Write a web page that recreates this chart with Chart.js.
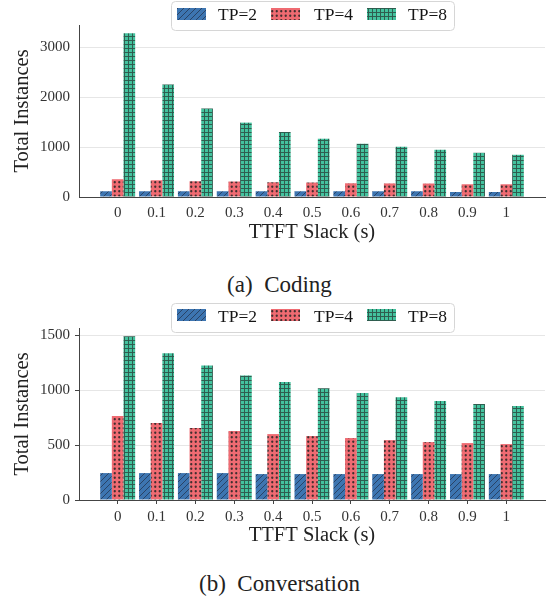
<!DOCTYPE html>
<html><head><meta charset="utf-8">
<script src="https://cdn.jsdelivr.net/npm/chart.js@4.4.1/dist/chart.umd.min.js"></script>
<style>
html,body{margin:0;padding:0;background:#fff;}
#wrap{position:relative;width:551px;height:599px;overflow:hidden;font-family:"Liberation Serif","Times New Roman",serif;}
.cv{position:absolute;left:0;width:551px;height:250px;}
.cap{position:absolute;left:0;width:559px;text-align:center;font-size:23px;color:#222;line-height:1;white-space:pre;}
</style></head><body>
<div id="wrap">
<div class="cv" style="top:0"><canvas id="c1" width="551" height="250"></canvas></div>
<div class="cv" style="top:300px"><canvas id="c2" width="551" height="250"></canvas></div>
<div class="cap" style="top:273px">(a)  Coding</div>
<div class="cap" style="top:572px">(b)  Conversation</div>
</div>
<script>
const slackLabels = ['0','0.1','0.2','0.3','0.4','0.5','0.6','0.7','0.8','0.9','1'];
const seriesNames = ['TP=2','TP=4','TP=8'];
const codingTP2 = [115,115,115,115,115,115,115,115,115,100,100];
const codingTP4 = [356,335,315,310,295,290,275,272,270,255,255];
const codingTP8 = [3280,2254,1771,1489,1302,1167,1066,1006,946,885,845];
const convTP2 = [245,245,245,245,236,236,236,236,236,236,236];
const convTP4 = [764,700,655,627,600,582,564,545,527,518,509];
const convTP8 = [1491,1336,1224,1133,1073,1018,973,936,900,873,855];
const codingTicks = [0,1000,2000,3000];
const convTicks = [0,500,1000,1500];

const SERIF = '"Liberation Serif","Times New Roman",serif';

function makePattern(kind){
  const c = document.createElement('canvas');
  const x = c.getContext('2d');
  if(kind==='hatch'){
    c.width=6;c.height=6;
    x.fillStyle='#3d75b1';x.fillRect(0,0,6,6);
    x.strokeStyle='rgba(30,40,60,0.8)';x.lineWidth=0.8;
    x.beginPath();
    x.moveTo(-1,7);x.lineTo(7,-1);
    x.moveTo(-1,1);x.lineTo(1,-1);
    x.moveTo(5,7);x.lineTo(7,5);
    x.stroke();
  } else if(kind==='dots'){
    c.width=9;c.height=9;
    x.fillStyle='#ef6b72';x.fillRect(0,0,9,9);
    x.fillStyle='rgba(45,40,40,0.9)';
    [[2.25,2.25],[6.75,2.25],[2.25,6.75],[6.75,6.75]].forEach(([a,b])=>{
      x.beginPath();x.arc(a,b,1.15,0,Math.PI*2);x.fill();
    });
  } else {
    c.width=4;c.height=4;
    x.fillStyle='#43c29e';x.fillRect(0,0,4,4);
    x.fillStyle='rgba(40,55,50,0.8)';
    x.fillRect(0,0,4,0.9);x.fillRect(0,0.9,0.9,3.1);
  }
  const ctx = document.createElement('canvas').getContext('2d');
  return ctx.createPattern(c,'repeat');
}
const patterns = [makePattern('hatch'),makePattern('dots'),makePattern('grid')];

const boxLegend = {
  id:'boxLegend',
  afterDraw(chart, args, o){
    const ctx = chart.ctx;
    ctx.save();
    ctx.beginPath();
    ctx.roundRect(o.x+0.5,o.y+0.5,o.w,o.h,4);
    ctx.fillStyle='rgba(255,255,255,0.85)';ctx.fill();
    ctx.strokeStyle='#d6d6d6';ctx.lineWidth=1;ctx.stroke();
    chart.data.datasets.forEach((ds,i)=>{
      ctx.fillStyle=ds.backgroundColor;
      ctx.fillRect(o.patchX[i], o.y+o.patchDy, 29, 12);
      ctx.fillStyle='#151515';
      ctx.font='17.5px '+SERIF;
      ctx.textBaseline='middle';
      ctx.fillText(ds.label, o.textX[i], o.y+o.textDy);
    });
    ctx.restore();
  }
};

function build(id, s2, s4, s8, yTicks, cfg){
  const n = slackLabels.length;
  const lo = -0.45, hi = (n-1)+0.45, m = 0.05*(hi-lo);
  const yMax = 1.05*Math.max(...s8);
  const mk = (arr)=>arr.map((v,i)=>({x:i,y:v}));
  return new Chart(document.getElementById(id),{
    type:'bar',
    data:{datasets:[s2,s4,s8].map((arr,i)=>({
      label:seriesNames[i], data:mk(arr), backgroundColor:patterns[i],
      borderWidth:0, categoryPercentage:0.9, barPercentage:1.0
    }))},
    plugins:[boxLegend],
    options:{
      responsive:false, animation:false,
      layout:{padding:{left:0,right:6,top:cfg.top,bottom:0}},
      plugins:{legend:{display:false},tooltip:{enabled:false},
        boxLegend:cfg.legend},
      scales:{
        x:{type:'linear',min:lo-m,max:hi+m,offset:false,
          afterFit(s){s.height=cfg.xh;},
          afterBuildTicks(s){s.ticks=slackLabels.map((_,i)=>({value:i}));},
          grid:{display:true,drawOnChartArea:false,drawTicks:cfg.ticks,tickLength:4,tickColor:'#444',offset:false},
          border:{display:true,color:'#444',width:1},
          ticks:{autoSkip:false,maxRotation:0,padding:cfg.xpad,color:'#333',font:{family:SERIF,size:15},
            callback:(v)=>slackLabels[v]},
          title:{display:true,text:'TTFT Slack (s)',color:'#222',font:{family:SERIF,size:20.5},padding:{top:0,bottom:cfg.xtpad}}
        },
        y:{min:0,max:yMax,z:1,
          afterFit(s){s.width=79;},
          afterBuildTicks(s){s.ticks=yTicks.map(v=>({value:v}));},
          grid:{color:'rgba(205,205,205,0.5)',lineWidth:1,drawTicks:cfg.ticks,tickLength:4,tickColor:'#444'},
          border:{display:true,color:'#444',width:1},
          ticks:{padding:cfg.ypad,color:'#333',font:{family:SERIF,size:15},callback:(v)=>String(v)},
          title:{display:true,text:'Total Instances',color:'#222',font:{family:SERIF,size:20.5},padding:{top:10.5,bottom:0}}
        }
      }
    }
  });
}

build('c1',codingTP2,codingTP4,codingTP8,codingTicks,{
  top:25,xh:53,ticks:false,xpad:7,xtpad:5,ypad:9,
  legend:{x:171,y:1,w:283,h:29,patchX:[177,271,367],textX:[218,314,408],patchDy:7,textDy:14}
});
build('c2',convTP2,convTP4,convTP8,convTicks,{
  top:28,xh:50,ticks:true,xpad:4,xtpad:2,ypad:5,
  legend:{x:171,y:3,w:283,h:29,patchX:[177,271,367],textX:[218,314,408],patchDy:6,textDy:14}
});
</script>
</body></html>
